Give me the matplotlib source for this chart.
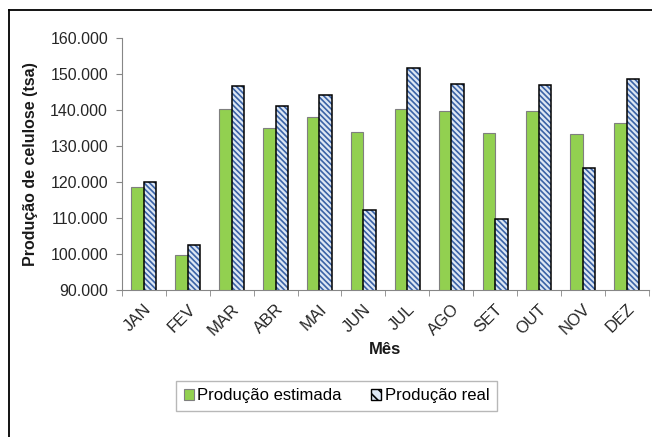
import numpy as np
import matplotlib
matplotlib.use("Agg")
import matplotlib.pyplot as plt
from matplotlib.lines import Line2D
from matplotlib.patches import Patch
from matplotlib.ticker import FuncFormatter, MultipleLocator

meses = ["JAN", "FEV", "MAR", "ABR", "MAI", "JUN",
         "JUL", "AGO", "SET", "OUT", "NOV", "DEZ"]
estimada = [118700, 99700, 140500, 135200, 138200, 134000,
            140500, 139800, 133600, 139800, 133300, 136500]
real = [120100, 102700, 146700, 141200, 144300, 112200,
        151900, 147300, 109700, 147000, 124100, 148600]

plt.rcParams["font.family"] = ["Liberation Sans", "DejaVu Sans"]
plt.rcParams["hatch.linewidth"] = 1.2

VERDE = "#92d050"
AZUL_FUNDO = "#dde7f4"
AZUL_HACHURA = "#3a62a6"
HACH = "\\" * 6

fig = plt.figure(figsize=(6.52, 4.37), dpi=100)
ax = fig.add_axes([0.187, 0.336, 0.808, 0.576])

x = np.arange(len(meses))
w = 0.285
ax.bar(x - w / 2, estimada, w, color=VERDE, edgecolor="#7f7f7f",
       linewidth=0.8, zorder=2)
# hatched fill first, then a black outline on top
ax.bar(x + w / 2, real, w, color=AZUL_FUNDO, edgecolor=AZUL_HACHURA,
       hatch=HACH, linewidth=0, zorder=2)
ax.bar(x + w / 2, real, w, fill=False, edgecolor="black",
       linewidth=1.1, zorder=3)

ax.set_xlim(-0.5, len(meses) - 0.5)
ax.set_ylim(90000, 160000)
ax.yaxis.set_major_locator(MultipleLocator(10000))
ax.yaxis.set_major_formatter(
    FuncFormatter(lambda v, p: f"{v:,.0f}".replace(",", ".")))

ax.set_xticks(x)
ax.set_xticklabels(meses, rotation=45, ha="right", rotation_mode="anchor")
ax.set_xticks(np.arange(-0.5, len(meses)), minor=True)
ax.tick_params(axis="x", which="major", length=0, pad=8,
               labelsize=12, labelcolor="#262626")
ax.tick_params(axis="x", which="minor", length=4, color="#868686")
ax.tick_params(axis="y", length=4, color="#868686", labelsize=11.5,
               labelcolor="#262626", pad=6)

for s in ["top", "right"]:
    ax.spines[s].set_visible(False)
for s in ["left", "bottom"]:
    ax.spines[s].set_color("#868686")

ax.set_ylabel("Produção de celulose (tsa)", fontsize=11.5, fontweight="bold",
              color="#1a1a1a", labelpad=9)
ax.set_xlabel("Mês", fontsize=12, fontweight="bold", color="#1a1a1a",
              labelpad=3)

handles = [
    Patch(facecolor=VERDE, edgecolor="#7f7f7f", linewidth=0.8,
          label="Produção estimada"),
    Patch(facecolor=AZUL_FUNDO, edgecolor="black", hatch="\\\\\\",
          linewidth=1.0, label="Produção real"),
]
leg = fig.legend(handles=handles, loc="center", ncol=2,
                 bbox_to_anchor=(0.516, 0.094), frameon=True, fancybox=False,
                 edgecolor="#a6a6a6", fontsize=12, handlelength=0.6,
                 handleheight=0.6, handletextpad=0.2, columnspacing=1.8,
                 borderpad=0.45, borderaxespad=0)
leg.get_frame().set_linewidth(1.0)

# outer frame (left and top edges)
fig.add_artist(Line2D([0.0145, 0.0145], [0, 0.977], color="black",
                      linewidth=1.3, transform=fig.transFigure))
fig.add_artist(Line2D([0.0145, 1.0], [0.977, 0.977], color="black",
                      linewidth=1.3, transform=fig.transFigure))

fig.savefig("out.png", dpi=100)
